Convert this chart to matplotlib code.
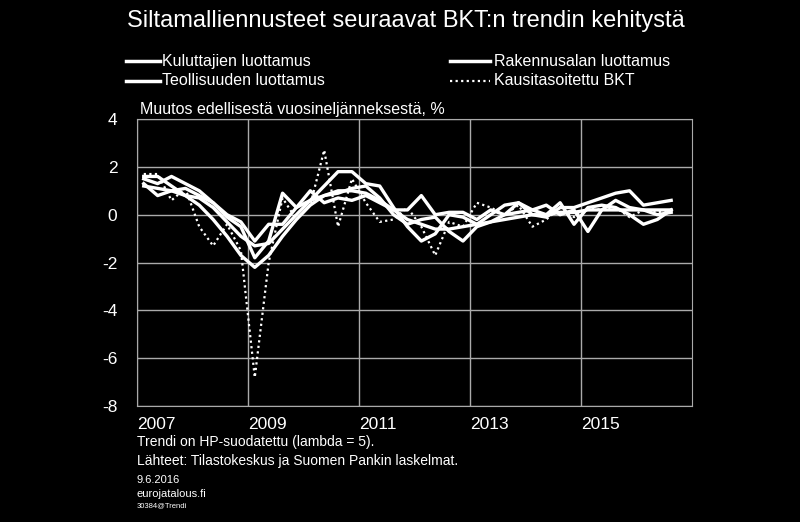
import matplotlib
matplotlib.use("Agg")
import matplotlib.pyplot as plt
import numpy as np

plt.rcParams["font.family"] = "Liberation Sans"
plt.rcParams["axes.unicode_minus"] = False

quarters = np.arange(39)
kuluttajat = [1.5,1.3,1.6,1.3,1.0,0.5,-0.1,-0.5,-1.8,-1.1,0.9,0.3,0.6,1.2,1.8,1.8,1.3,1.2,0.3,-0.5,-1.1,-0.8,0.0,-0.1,-0.4,0.0,0.4,0.5,0.0,-0.1,0.3,0.3,0.5,0.7,0.9,1.0,0.4,0.5,0.6]
rakennus = [1.3,0.8,1.0,1.1,0.8,0.5,0.0,-0.3,-1.1,-0.4,-0.4,0.3,1.0,0.5,0.7,0.6,0.8,0.5,0.2,0.2,0.8,0.0,0.1,0.1,-0.2,0.2,0.0,0.5,0.2,0.0,0.5,-0.4,0.3,0.4,0.3,0.0,-0.4,-0.2,0.2]
teollisuus = [1.6,1.6,1.2,0.8,0.7,0.3,-0.3,-0.9,-1.3,-1.2,-0.6,0.0,0.6,0.8,0.9,1.1,1.2,0.7,0.0,-0.4,-0.2,-0.1,-0.7,-1.1,-0.5,-0.3,0.0,0.1,0.2,0.4,0.0,0.2,-0.7,0.2,0.6,0.3,0.2,0.0,0.1]
bkt = [1.7,1.7,0.6,1.1,-0.5,-1.3,-0.4,-1.5,-6.8,-2.0,0.7,-0.2,0.4,2.7,-0.5,1.5,0.5,-0.3,-0.2,0.3,-0.5,-1.7,-0.3,-0.5,0.5,0.3,0.0,0.4,-0.5,-0.2,0.3,-0.1,0.3,0.2,0.3,-0.1,0.2,0.1,0.2]
trendi = [1.2,1.1,1.0,0.8,0.4,-0.2,-0.9,-1.7,-2.2,-1.7,-0.9,-0.2,0.4,0.8,1.0,1.0,0.9,0.6,0.2,-0.2,-0.4,-0.6,-0.6,-0.5,-0.4,-0.3,-0.2,-0.1,0.0,0.0,0.1,0.1,0.2,0.2,0.2,0.2,0.2,0.2,0.2]
years = [2007, 2009, 2011, 2013, 2015]
yticks = [4, 2, 0, -2, -4, -6, -8]

x = 2007 + (quarters + 0.5) / 4
fig = plt.figure(figsize=(8, 5.22), dpi=100, facecolor="black")
ax = fig.add_axes([0.171, 0.222, 0.694, 0.550], facecolor="black")
lw = 2.4
ax.plot(x, kuluttajat, color="white", lw=lw)
ax.plot(x, rakennus, color="white", lw=lw)
ax.plot(x, teollisuus, color="white", lw=lw)
ax.plot(x, trendi, color="white", lw=lw)
ax.plot(x, bkt, color="white", lw=1.6, ls=(0, (1, 1.5)))
ax.set_xlim(2007, 2017)
ax.set_ylim(-8, 4)
ax.set_yticks(yticks)
ax.set_xticks(years)
ax.set_xticklabels([])
ax.grid(True, color="#aaaaaa", lw=1)
for s in ax.spines.values():
    s.set_color("#aaaaaa")
ax.tick_params(length=0, colors="white", labelsize=12.5, pad=14)
for yr in years:
    ax.text(yr, -8.45, str(yr), color="white", fontsize=12.5, ha="left", va="top",
            transform=ax.transData)

fig.text(0.507, 0.960, "Siltamalliennusteet seuraavat BKT:n trendin kehitystä", color="white",
         fontsize=17, ha="center", va="center")
lf = 11.5
fig.text(0.202, 0.883, "Kuluttajien luottamus", color="white", fontsize=lf, va="center")
fig.text(0.202, 0.845, "Teollisuuden luottamus", color="white", fontsize=lf, va="center")
fig.text(0.618, 0.883, "Rakennusalan luottamus", color="white", fontsize=lf, va="center")
fig.text(0.618, 0.845, "Kausitasoitettu BKT", color="white", fontsize=lf, va="center")
fig.add_artist(plt.Line2D([0.158, 0.200], [0.883, 0.883], color="white", lw=2.5))
fig.add_artist(plt.Line2D([0.158, 0.200], [0.845, 0.845], color="white", lw=2.5))
fig.add_artist(plt.Line2D([0.563, 0.613], [0.883, 0.883], color="white", lw=2.5))
fig.add_artist(plt.Line2D([0.563, 0.613], [0.845, 0.845], color="white", lw=1.6, ls=(0, (1, 1.5))))
fig.text(0.175, 0.790, "Muutos edellisestä vuosineljänneksestä, %", color="white", fontsize=lf, va="center")
fig.text(0.171, 0.153, "Trendi on HP-suodatettu (lambda = 5).", color="white", fontsize=10, va="center")
fig.text(0.171, 0.117, "Lähteet: Tilastokeskus ja Suomen Pankin laskelmat.", color="white", fontsize=10, va="center")
fig.text(0.171, 0.080, "9.6.2016", color="white", fontsize=8, va="center")
fig.text(0.171, 0.054, "eurojatalous.fi", color="white", fontsize=8, va="center")
fig.text(0.171, 0.032, "30384@Trendi", color="white", fontsize=5.5, va="center")
fig.savefig("out.png", dpi=100, facecolor="black")
